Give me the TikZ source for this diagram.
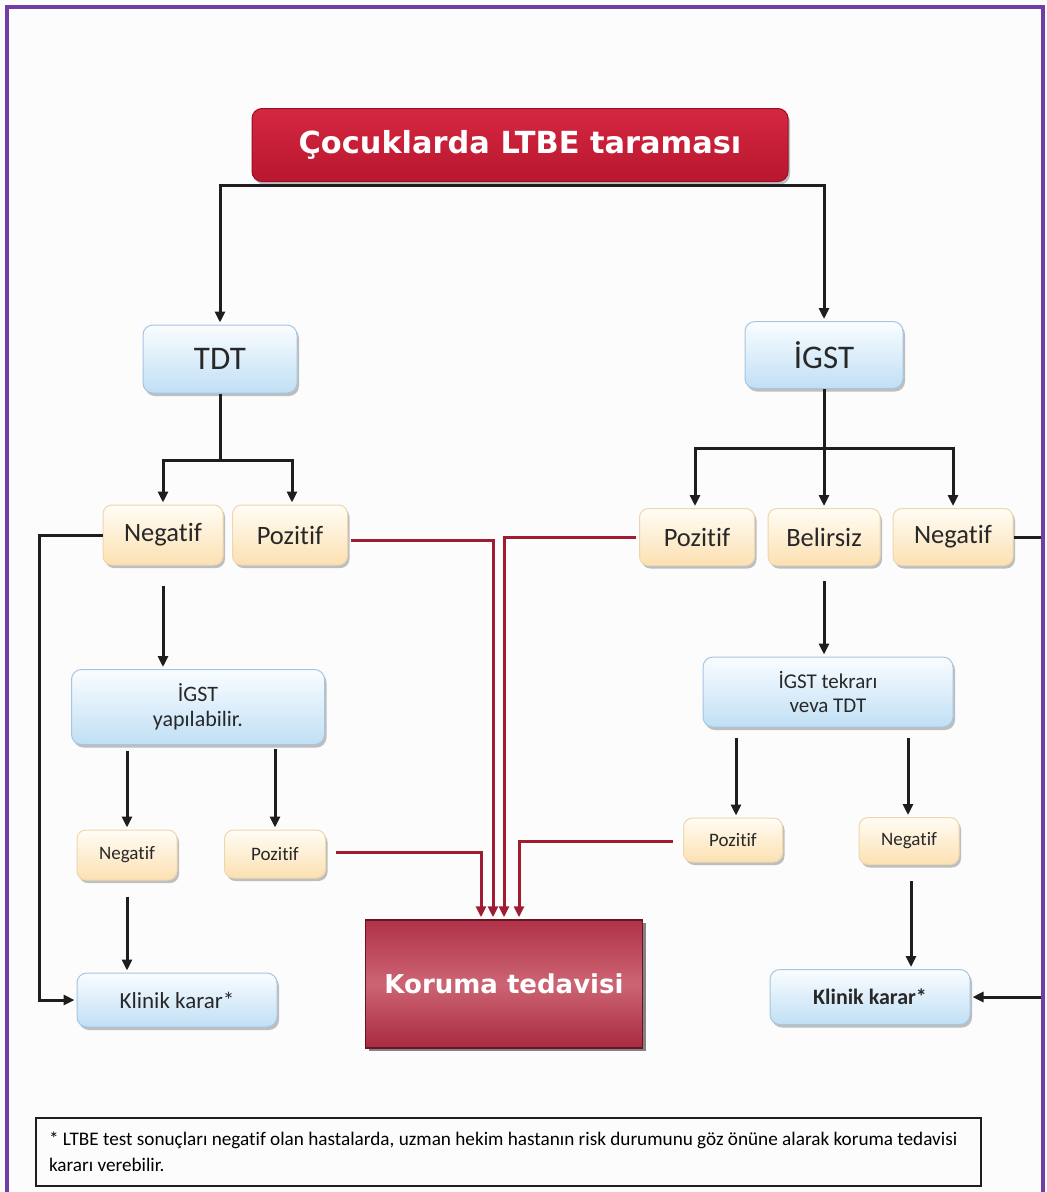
\documentclass[tikz,border=0pt]{standalone}
\usepackage{fontspec}
\setmainfont{Carlito}[Ligatures=NoCommon]
\newfontfamily\verd{DejaVu Sans}
\usetikzlibrary{arrows.meta,shadows,calc}
\definecolor{frameP}{RGB}{112,62,165}
\definecolor{bgc}{RGB}{252,252,252}
\definecolor{titleT}{RGB}{212,40,64}
\definecolor{titleB}{RGB}{186,22,48}
\definecolor{titleD}{RGB}{150,15,35}
\definecolor{korT}{RGB}{176,50,72}
\definecolor{korM}{RGB}{204,100,116}
\definecolor{korB}{RGB}{168,42,64}
\definecolor{korD}{RGB}{105,20,35}
\definecolor{blueT}{RGB}{250,253,255}
\definecolor{blueB}{RGB}{192,223,245}
\definecolor{blueD}{RGB}{165,198,225}
\definecolor{orT}{RGB}{255,253,245}
\definecolor{orB}{RGB}{252,224,178}
\definecolor{orD}{RGB}{238,214,175}
\definecolor{txt}{RGB}{40,40,40}
\definecolor{lineK}{RGB}{30,30,30}
\definecolor{lineR}{RGB}{160,28,50}
\begin{document}
\begin{tikzpicture}[x=1pt,y=-1pt,
  shadowed/.style={drop shadow={shadow xshift=2pt,shadow yshift=-3pt,opacity=0.35,fill=black!70}},
  bluebox/.style={draw=blueD,line width=1pt,rounded corners=10pt,top color=blueT,bottom color=blueB,shadowed,text=txt,align=center,inner sep=0pt},
  orbox/.style={draw=orD,line width=1pt,rounded corners=9pt,top color=orT,bottom color=orB,shadowed,text=txt,align=center,inner sep=0pt},
  conn/.style={draw=lineK,line width=3pt},
  arr/.style={conn,-{Triangle[length=11pt,width=10pt]},shorten >=2pt},
  rarr/.style={draw=lineR,line width=3pt,-{Triangle[length=11pt,width=10pt]},shorten >=2pt},
  fs/.style={font=\fontsize{#1}{\dimexpr#1pt*5/4\relax}\selectfont},
  fsb/.style={font=\fontsize{#1}{\dimexpr#1pt*5/4\relax}\selectfont\bfseries}
]
\useasboundingbox (0,0) rectangle (1047,1192);
\fill[bgc] (0,0) rectangle (1047,1192);

% title
\node[draw=titleD,line width=1pt,rounded corners=10pt,top color=titleT,bottom color=titleB,shadowed,
  minimum width=536pt,minimum height=73pt,inner sep=0pt,text=white,font=\verd\bfseries\fontsize{30.4}{36}\selectfont]
  (title) at (520,145) {Çocuklarda LTBE taraması};

% first level
\node[bluebox,minimum width=154pt,minimum height=68pt,fs=33] (tdt) at (220,359) {TDT};
\node[bluebox,minimum width=158pt,minimum height=67pt,fs=33] (igst) at (824,355) {İGST};

% second level
\node[orbox,minimum width=120pt,minimum height=60pt,fs=26.5] (neg1) at (163,535) {Negatif};
\node[orbox,minimum width=115pt,minimum height=60pt,fs=26.5] (poz1) at (290,535) {Pozitif};
\node[orbox,minimum width=115pt,minimum height=57pt,fs=26.5] (poz2) at (697,537) {Pozitif};
\node[orbox,minimum width=112pt,minimum height=57pt,fs=26.5] (bel) at (824,537) {Belirsiz};
\node[orbox,minimum width=120pt,minimum height=57pt,fs=26.5] (neg2) at (953,537) {Negatif};

% left branch
\node[bluebox,minimum width=253pt,minimum height=75pt,fs=22] (igy) at (198,707) {İGST\\[-3pt]yapılabilir.};
\node[orbox,minimum width=100pt,minimum height=50pt,fs=19] (neg3) at (127,855) {Negatif};
\node[orbox,minimum width=101pt,minimum height=48pt,fs=19] (poz3) at (275,854) {Pozitif};
\node[bluebox,minimum width=200pt,minimum height=54pt,fs=23] (klin1) at (177,1000) {Klinik karar*};

% right branch
\node[bluebox,minimum width=250pt,minimum height=70pt,fs=21] (igt) at (828,692) {İGST tekrarı\\[-2pt]veva TDT};
\node[orbox,minimum width=99pt,minimum height=44pt,fs=19] (poz4) at (733,840) {Pozitif};
\node[orbox,minimum width=100pt,minimum height=47pt,fs=19] (neg4) at (909,841) {Negatif};
\node[bluebox,minimum width=200pt,minimum height=55pt,fsb=22] (klin2) at (870,997) {Klinik karar*};

% Koruma tedavisi
\node[draw=korD,line width=1.5pt,top color=korT,bottom color=korB,middle color=korM,
  drop shadow={shadow xshift=3pt,shadow yshift=-3pt,opacity=0.6,fill=black!80},
  minimum width=277pt,minimum height=128pt,inner sep=0pt,text=white,font=\verd\bfseries\fontsize{26}{31}\selectfont]
  (kor) at (504,984) {Koruma tedavisi};

% footnote
\node[draw=lineK,line width=2pt,minimum width=945pt,minimum height=68pt,anchor=north west,
  text width=919pt,align=flush left,inner xsep=12pt,inner ysep=3pt,text=black,
  font=\fontsize{19.2}{26}\selectfont] (foot) at (35,1117)
  {* LTBE test sonuçları negatif olan hastalarda, uzman hekim hastanın risk durumunu göz önüne alarak koruma tedavisi\\kararı verebilir.};

% black connectors
\coordinate (tb) at ($(title.south)+(-5,3)$);
\draw[arr] (tb) -| (tdt.north);
\draw[arr] (tb) -| (igst.north);

\draw[conn] (tdt.south) -- ++(0,67) coordinate (tj);
\draw[arr] ($(tj)+(1.5,0)$) -| (neg1.north);
\draw[arr] ($(tj)+(-1.5,0)$) -| ($(poz1.north)+(2,0)$);

\draw[arr] (igst.south) -- (bel.north);
\coordinate (ij) at ($(igst.south)+(0,59)$);
\draw[arr] (ij) -| ($(poz2.north)+(-2,0)$);
\draw[arr] (ij) -| (neg2.north);

\draw[arr] (neg1.west) -- ++(-63,0) |- (klin1.west);
\draw[arr] ($(neg1.south)+(0,20)$) -- (neg1.south |- igy.north);
\draw[arr] ($(igy.south -| neg3.north)+(0,6)$) -- (neg3.north);
\draw[arr] ($(igy.south -| poz3.north)+(0,4)$) -- (poz3.north);
\draw[arr] ($(neg3.south)+(0,16)$) -- (neg3.south |- klin1.north);

\draw[arr] ($(bel.south)+(0,15)$) -- (bel.south |- igt.north);
\draw[arr] ($(igt.south -| poz4.north)+(3,10)$) -- ($(poz4.north)+(3,0)$);
\draw[arr] ($(igt.south -| neg4.north)+(-1,10)$) -- ($(neg4.north)+(-1,0)$);
\draw[arr] ($(neg4.south)+(2,16)$) -- ($(neg4.south |- klin2.north)+(2,0)$);
\draw[arr] (neg2.east) -- (1043,537) |- (klin2.east);

% red connectors
\draw[rarr] ($(poz3.east)+(10,-2)$) -| ($(kor.north)+(-23,0)$);
\draw[rarr] ($(poz1.east)+(3,5)$) -| ($(kor.north)+(-11,0)$);
\draw[rarr] ($(poz2.west)+(-3,0)$) -| (kor.north);
\draw[rarr] ($(poz4.west)+(-10,1)$) -| ($(kor.north)+(15,0)$);

% purple frame
\draw[frameP,line width=3.5pt] (7,1200) -- (7,7) -- (1043,7) -- (1043,1200);
\end{tikzpicture}
\end{document}
